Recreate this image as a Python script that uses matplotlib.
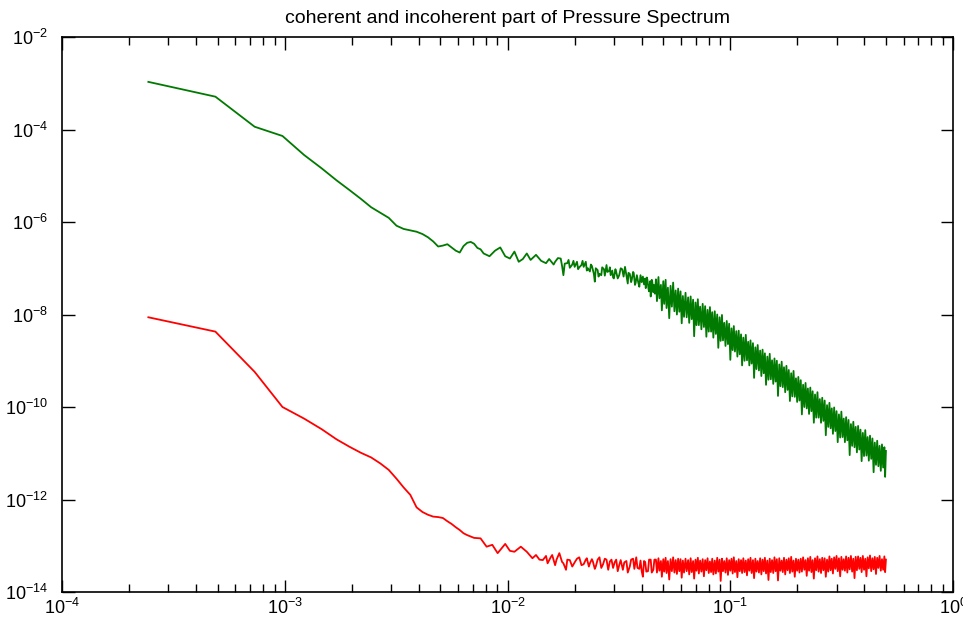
import numpy as np
import matplotlib.pyplot as plt
from matplotlib.ticker import LogLocator, NullLocator

plt.rcParams['font.family'] = ['Liberation Sans', 'DejaVu Sans']
plt.rcParams['mathtext.default'] = 'regular'

N_FFT = 4096

# frequency bins of the dense (noisy) high frequency part, shared by both spectra
band_bins = [190, 192, 195, 197, 200, 202, 205, 207, 210, 212, 215, 218, 221, 224, 227,
             230, 233, 236, 239, 242, 245, 248, 251, 254, 258, 261, 265, 268, 272, 275,
             279, 282, 286, 289, 293, 296, 300, 304, 308, 312, 316, 320, 324, 328, 332,
             336, 340, 344, 349, 353, 358, 362, 367, 371, 376, 380, 385, 390, 395, 400,
             405, 410, 415, 420, 425, 430, 436, 441, 447, 452, 458, 463, 469, 475, 481,
             487, 493, 499, 505, 511, 518, 524, 531, 537, 544, 551, 558, 565, 572, 579,
             586, 593, 601, 608, 616, 623, 631, 639, 647, 655, 663, 671, 680, 688, 697,
             705, 714, 723, 732, 741, 750, 759, 769, 778, 788, 798, 808, 818, 828, 838,
             849, 859, 870, 881, 892, 903, 914, 925, 937, 948, 960, 972, 984, 996, 1009,
             1021, 1034, 1047, 1060, 1073, 1087, 1100, 1114, 1128, 1142, 1156, 1170, 1184,
             1199, 1214, 1229, 1244, 1260, 1276, 1292, 1308, 1324, 1340, 1357, 1374, 1391,
             1408, 1426, 1444, 1462, 1480, 1498, 1517, 1536, 1555, 1574, 1593, 1613, 1633,
             1654, 1674, 1695, 1716, 1737, 1759, 1781, 1803, 1825, 1848, 1871, 1894, 1918,
             1942, 1966, 1990, 2015, 2031, 2048]

# coherent part (green), log10 of the spectrum
coh_low_bins = [1, 2, 3, 4, 5, 6, 7, 8, 9, 10, 11, 12, 13, 14, 15, 16, 17, 18, 19, 20,
                21, 22, 23, 24, 25, 26, 27, 28, 29, 30, 31, 32, 34, 36, 38, 40, 42, 44,
                46, 48, 50, 52, 55, 58,
                61, 63, 64, 66, 67, 69, 71, 72, 73, 74, 76, 77, 78, 80, 81, 82, 84, 85,
                86, 88, 89, 90, 92, 93, 94, 96, 97, 98, 100, 101, 102, 104, 105, 106,
                108, 109, 111, 112, 114, 115, 117, 118, 119, 121, 122, 123, 125, 126,
                128, 130, 132, 134, 136, 138, 140, 142, 143, 145, 147, 148, 150, 151,
                153, 154, 156, 158, 160, 162, 164, 166, 168, 170, 171, 173, 174, 176,
                177, 179, 180, 182, 183, 185, 186, 188]
coh_low_log = [-2.97, -3.29, -3.94, -4.14, -4.55, -4.84, -5.10, -5.31, -5.50, -5.68,
               -5.80, -5.91, -6.08, -6.15, -6.18, -6.21, -6.26, -6.33, -6.42, -6.53,
               -6.51, -6.48, -6.55, -6.62, -6.66, -6.52, -6.45, -6.43, -6.47, -6.56,
               -6.59, -6.68, -6.74, -6.62, -6.55, -6.74, -6.79, -6.64, -6.86, -6.80,
               -6.68, -6.82, -6.71, -6.84,
               -6.89, -6.80, -6.84, -6.92, -6.86, -6.78, -6.79, -6.95, -7.15, -6.90,
               -6.89, -6.82, -6.99, -6.92, -6.84, -6.97, -6.86, -7.02, -6.98, -6.93,
               -6.84, -6.97, -6.86, -7.05, -7.00, -7.07, -6.92, -6.95, -7.12, -7.29,
               -7.00, -7.04, -7.18, -7.12, -7.15, -6.98, -7.02, -7.16, -6.93, -7.08,
               -7.06, -6.98, -7.15, -7.05, -7.20, -7.22, -7.02, -7.08, -7.22, -7.15,
               -7.00, -7.02, -7.18, -6.97, -7.15, -7.33, -7.10, -7.12, -7.30, -7.25,
               -7.08, -7.10, -7.36, -7.32, -7.15, -7.29, -7.40, -7.15, -7.30, -7.18,
               -7.35, -7.22, -7.43, -7.20, -7.25, -7.45, -7.50, -7.28, -7.61, -7.25,
               -7.30, -7.52, -7.36, -7.55]
coh_band_log = [-7.24, -7.71, -7.19, -7.65, -7.36, -7.91, -7.28, -7.77, -7.25, -7.86,
                -7.42, -8.08, -7.38, -7.83, -7.31, -7.93, -7.48, -8.00, -7.44, -7.94,
                -7.50, -8.19, -7.60, -8.05, -7.53, -8.06, -7.63, -8.18, -7.61, -8.10,
                -7.68, -8.47, -7.74, -8.23, -7.67, -8.23, -7.83, -8.32, -7.77, -8.27,
                -7.82, -8.48, -7.90, -8.37, -7.84, -8.37, -7.95, -8.50, -7.93, -8.42,
                -8.00, -8.72, -8.06, -8.57, -8.01, -8.56, -8.18, -8.68, -8.14, -8.64,
                -8.20, -8.98, -8.30, -8.77, -8.25, -8.80, -8.36, -8.91, -8.35, -8.86,
                -8.43, -9.10, -8.50, -9.00, -8.44, -8.99, -8.59, -9.10, -8.56, -9.06,
                -8.62, -9.37, -8.71, -9.18, -8.66, -9.21, -8.78, -9.33, -8.76, -9.27,
                -8.84, -9.52, -8.91, -9.41, -8.85, -9.40, -8.99, -9.50, -8.95, -9.45,
                -9.00, -9.76, -9.08, -9.55, -9.02, -9.57, -9.14, -9.68, -9.11, -9.63,
                -9.20, -9.87, -9.27, -9.77, -9.22, -9.78, -9.38, -9.89, -9.35, -9.86,
                -9.42, -10.16, -9.52, -10.00, -9.48, -10.03, -9.60, -10.15, -9.58, -10.09,
                -9.66, -10.34, -9.73, -10.23, -9.68, -10.23, -9.83, -10.34, -9.80, -10.30,
                -9.86, -10.61, -9.96, -10.43, -9.91, -10.46, -10.03, -10.58, -10.01,
                -10.52, -10.09, -10.76, -10.16, -10.66, -10.10, -10.65, -10.25, -10.76,
                -10.22, -10.72, -10.28, -11.04, -10.37, -10.84, -10.32, -10.87, -10.43,
                -10.98, -10.41, -10.92, -10.49, -11.17, -10.56, -11.06, -10.50, -11.05,
                -10.65, -11.16, -10.62, -11.12, -10.68, -11.41, -10.77, -11.25, -10.73,
                -11.28, -10.84, -11.38, -10.81, -11.31, -10.87, -11.51, -10.95]

# incoherent part (red), log10 of the spectrum
inc_low_bins = [1, 2, 3, 4, 5, 6, 7, 8, 9, 10, 11, 12, 13, 14, 15, 16, 17, 18, 19, 20,
                21, 22, 23, 24, 25, 26, 27, 28, 29, 31, 33, 35, 37, 40, 42, 44, 47, 50,
                53, 55, 57, 59, 61, 62, 64, 65, 67, 68, 70, 72, 73, 75, 76, 78, 80, 82,
                84, 86, 88, 90, 92, 93, 95, 96, 98, 99, 101, 102, 104, 106, 108, 110,
                112, 114, 116, 118, 120, 122, 124, 126, 128, 130, 132, 135, 137, 140,
                142, 145, 147, 150, 152, 155, 157, 160, 162, 164, 166, 168, 170, 172,
                175, 177, 180, 182, 185, 187]
inc_low_log = [-8.06, -8.37, -9.24, -10.00, -10.25, -10.48, -10.70, -10.86, -10.99,
               -11.09, -11.22, -11.36, -11.55, -11.74, -11.90, -12.17, -12.27, -12.33,
               -12.37, -12.38, -12.40, -12.47, -12.53, -12.60, -12.66, -12.73, -12.77,
               -12.80, -12.83, -12.84, -13.02, -12.98, -13.16, -12.96, -13.11, -13.13,
               -13.02, -13.13,
               -13.27, -13.20, -13.30, -13.31, -13.22, -13.38, -13.25, -13.20, -13.42,
               -13.30, -13.16, -13.35, -13.38, -13.52, -13.30, -13.31, -13.45, -13.36,
               -13.28, -13.25, -13.42, -13.40, -13.30, -13.27, -13.45, -13.38, -13.29,
               -13.34, -13.50, -13.45, -13.30, -13.25, -13.48, -13.40, -13.28, -13.30,
               -13.52, -13.34, -13.30, -13.48, -13.36, -13.30, -13.55, -13.42, -13.31,
               -13.52, -13.36, -13.33, -13.58, -13.45, -13.30, -13.28, -13.50, -13.25,
               -13.48, -13.50, -13.32, -13.55, -13.67, -13.33, -13.35, -13.56, -13.55,
               -13.30, -13.30, -13.58, -13.52, -13.30]
inc_band_log = [-13.30, -13.58, -13.27, -13.54, -13.33, -13.67, -13.29, -13.56, -13.26,
                -13.59, -13.33, -13.73, -13.29, -13.55, -13.25, -13.58, -13.31, -13.61,
                -13.28, -13.55, -13.29, -13.69, -13.32, -13.58,
                -13.28, -13.55, -13.31, -13.62, -13.27, -13.57, -13.33, -13.71, -13.30,
                -13.54, -13.26, -13.60, -13.32, -13.56, -13.29, -13.66, -13.31, -13.53,
                -13.27, -13.59, -13.34, -13.57, -13.28, -13.62,
                -13.32, -13.60, -13.26, -13.56, -13.30, -13.76, -13.28, -13.55, -13.33,
                -13.58, -13.27, -13.63, -13.31, -13.54, -13.28, -13.60, -13.25, -13.57,
                -13.33, -13.68, -13.29, -13.55, -13.31, -13.59,
                -13.27, -13.57, -13.32, -13.64, -13.29, -13.54, -13.26, -13.59, -13.31,
                -13.70, -13.28, -13.56, -13.33, -13.58, -13.27, -13.62, -13.30, -13.55,
                -13.26, -13.60, -13.32, -13.74, -13.28, -13.57,
                -13.31, -13.59, -13.25, -13.55, -13.29, -13.75, -13.27, -13.54, -13.32,
                -13.57, -13.26, -13.62, -13.30, -13.53, -13.27, -13.59, -13.24, -13.56,
                -13.32, -13.67, -13.28, -13.54, -13.30, -13.58,
                -13.28, -13.56, -13.25, -13.52, -13.31, -13.65, -13.27, -13.54, -13.24,
                -13.57, -13.31, -13.71, -13.27, -13.53, -13.23, -13.56, -13.29, -13.59,
                -13.26, -13.53, -13.27, -13.67, -13.30, -13.56,
                -13.23, -13.53, -13.28, -13.60, -13.25, -13.50, -13.22, -13.55, -13.27,
                -13.66, -13.24, -13.52, -13.29, -13.54, -13.23, -13.58, -13.26, -13.51,
                -13.22, -13.56, -13.28, -13.70, -13.24, -13.53,
                -13.23, -13.50, -13.26, -13.57, -13.22, -13.52, -13.28, -13.66, -13.25,
                -13.49, -13.21, -13.55, -13.27, -13.51, -13.24, -13.61, -13.26, -13.48,
                -13.22, -13.54, -13.29, -13.52, -13.23, -13.57,
                -13.30]

assert len(coh_low_bins) == len(coh_low_log), (len(coh_low_bins), len(coh_low_log))
assert len(inc_low_bins) == len(inc_low_log), (len(inc_low_bins), len(inc_low_log))
assert len(band_bins) == len(coh_band_log) == len(inc_band_log), \
    (len(band_bins), len(coh_band_log), len(inc_band_log))

freq_coh = np.array(coh_low_bins + band_bins) / N_FFT
psd_coh = 10.0 ** np.array(coh_low_log + coh_band_log)
freq_inc = np.array(inc_low_bins + band_bins) / N_FFT
psd_inc = 10.0 ** np.array(inc_low_log + inc_band_log)

fig = plt.figure(figsize=(9.63, 6.21), dpi=100)
ax = fig.add_axes([0.0644, 0.0467, 0.9252, 0.8937])
ax.loglog(freq_coh, psd_coh, color='#007a00', lw=1.3)
ax.loglog(freq_inc, psd_inc, color='#ff0000', lw=1.3)

ax.set_xlim(1e-4, 1)
ax.set_ylim(1e-14, 1e-2)
ax.xaxis.set_major_locator(LogLocator(base=10, numticks=10))
ax.xaxis.set_minor_locator(LogLocator(base=10, subs=np.arange(2, 10), numticks=50))
ax.set_yticks([10.0 ** e for e in range(-14, -1, 2)])
ax.yaxis.set_minor_locator(NullLocator())

for sp in ax.spines.values():
    sp.set_linewidth(1.2)
ax.tick_params(which='both', direction='in', top=True, right=True, width=1.0,
               labelsize=13, colors='black')
ax.tick_params(which='major', length=9)
ax.tick_params(which='minor', length=6)
ax.tick_params(axis='x', pad=4)
ax.tick_params(axis='y', pad=10)

ax.set_title('coherent and incoherent part of Pressure Spectrum', fontsize=14, pad=10)

fig.savefig('out.png', dpi=100)
